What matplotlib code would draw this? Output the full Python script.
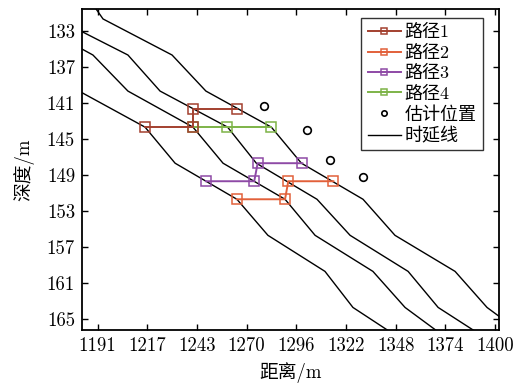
import numpy as np
import matplotlib
matplotlib.use("Agg")
import matplotlib.pyplot as plt

plt.rcParams["font.family"] = ["cmr10", "Noto Sans CJK SC", "DejaVu Sans"]
plt.rcParams["axes.unicode_minus"] = False

# time-delay lines (depth grid every 4 m)
depth_l1 = [127.7, 131.7, 135.7, 139.7, 143.7, 147.7, 151.7, 155.7, 159.7, 163.7, 167.7]
line1_x = [1180.7, 1193.9, 1230.2, 1248.0, 1282.4, 1298.2, 1330.6, 1347.4, 1379.0, 1395.8, 1421.5]
depth_l23 = [131.7, 135.7, 139.7, 143.7, 147.7, 151.7, 155.7, 159.7, 163.7, 167.7]
line2_x = [1169.7, 1207.0, 1223.9, 1259.4, 1274.5, 1306.4, 1323.8, 1354.3, 1370.1, 1399.5]
line3_x = [1153.9, 1188.6, 1207.0, 1241.2, 1257.0, 1289.6, 1305.4, 1335.8, 1352.7, 1378.4]
depth_l4 = [135.7, 139.7, 143.7, 147.7, 151.7, 155.7, 159.7, 163.7, 167.7]
line4_x = [1164.4, 1181.3, 1216.0, 1231.8, 1264.3, 1280.6, 1310.6, 1325.3, 1354.2]

# paths
path1_x = [1216.0, 1241.4, 1241.4, 1264.2]
path1_y = [143.7, 143.7, 141.7, 141.7]
path2_x = [1264.2, 1289.6, 1291.3, 1315.0]
path2_y = [151.7, 151.7, 149.7, 149.7]
path3_x = [1248.0, 1273.4, 1275.2, 1298.7]
path3_y = [149.7, 149.7, 147.7, 147.7]
path4_x = [1241.4, 1259.2, 1282.2]
path4_y = [143.7, 143.7, 143.7]

# estimated positions
est_x = [1278.5, 1301.0, 1313.2, 1330.7]
est_y = [141.3, 144.0, 147.3, 149.2]

xticks = np.linspace(1191, 1400, 9)
xtick_labels = ["1191", "1217", "1243", "1270", "1296", "1322", "1348", "1374", "1400"]
yticks = [133, 137, 141, 145, 149, 153, 157, 161, 165]

colors = ["#A3402F", "#E2603A", "#8E4AA6", "#7DB347"]

fig = plt.figure(figsize=(5.19, 3.83), dpi=100)
ax = fig.add_axes([0.158, 0.1384, 0.8035, 0.838])

for lx, ly in [(line1_x, depth_l1), (line2_x, depth_l23), (line3_x, depth_l23), (line4_x, depth_l4)]:
    h_line, = ax.plot(lx, ly, color="black", lw=1.0, zorder=2)

mk = dict(marker="s", ms=6.5, mfc="none", mew=1.1, lw=1.4)
h4, = ax.plot(path4_x, path4_y, color=colors[3], zorder=3, **mk)
h3, = ax.plot(path3_x, path3_y, color=colors[2], zorder=4, **mk)
h2, = ax.plot(path2_x, path2_y, color=colors[1], zorder=5, **mk)
h1, = ax.plot(path1_x, path1_y, color=colors[0], zorder=6, **mk)
h_est, = ax.plot(est_x, est_y, "o", ms=5.5, mfc="none", mec="black", mew=1.2, zorder=6)

ax.set_xlim(1182.85, 1402.1)
ax.set_ylim(166.2, 130.6)
ax.set_xticks(xticks)
ax.set_xticklabels(xtick_labels)
ax.set_yticks(yticks)
ax.tick_params(direction="in", top=True, right=True, length=4, width=1,
               labelsize=13.5, pad=5)
for s in ax.spines.values():
    s.set_linewidth(1.3)

ax.set_xlabel("距离/m", fontsize=13.5, labelpad=5)
ax.set_ylabel("深度/m", fontsize=13.5, labelpad=9)

leg = ax.legend([h1, h2, h3, h4, h_est, h_line],
                ["路径1", "路径2", "路径3", "路径4", "估计位置", "时延线"],
                loc="upper right", bbox_to_anchor=(0.9616, 0.972), borderaxespad=0,
                fontsize=13, fancybox=False, framealpha=1, edgecolor="#333333",
                handlelength=1.85, handletextpad=0.2, labelspacing=0.24,
                borderpad=0.35, markerscale=0.7)
leg.get_frame().set_linewidth(1.0)

fig.savefig("out.png", dpi=100)
